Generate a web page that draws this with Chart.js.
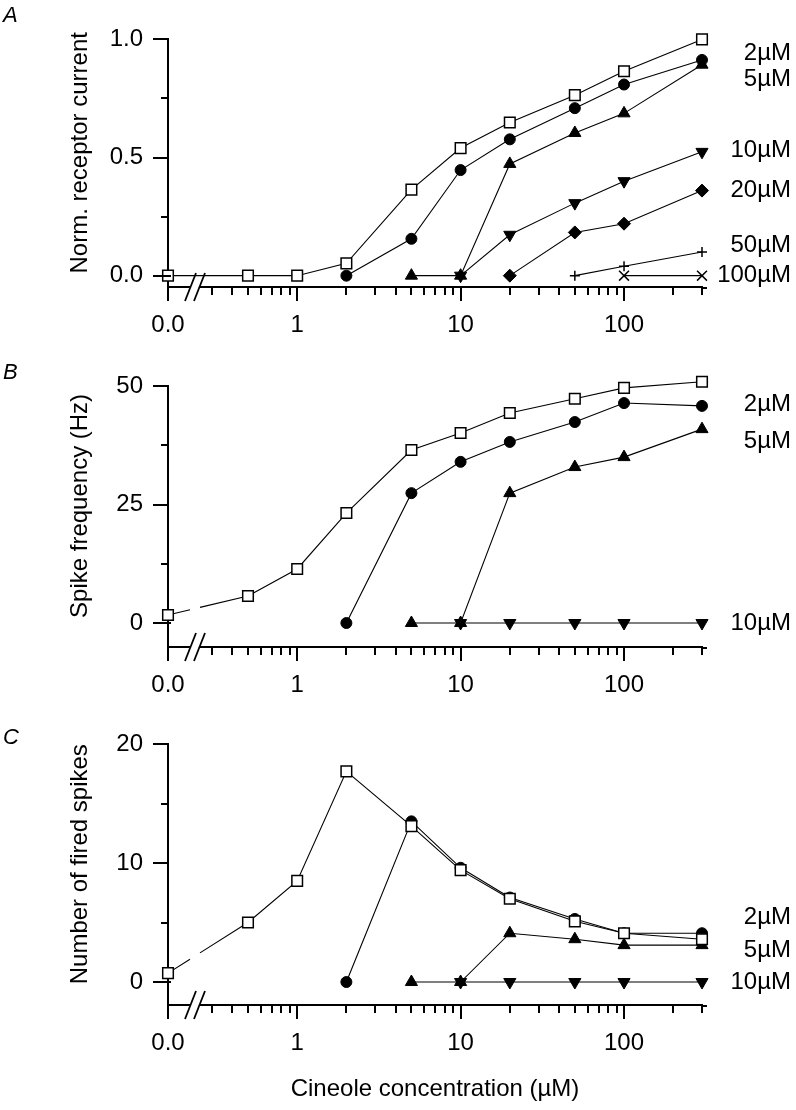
<!DOCTYPE html>
<html><head><meta charset="utf-8">
<script src="https://cdn.jsdelivr.net/npm/chart.js@4.4.1/dist/chart.umd.min.js"></script>
<style>
html,body{margin:0;padding:0;background:#fff;}
#wrap{position:relative;width:796px;height:1110px;overflow:hidden;background:#fff;}
canvas{position:absolute;left:0;}
</style></head><body>
<div id="wrap">
<canvas id="cA" width="796" height="340" style="top:0px"></canvas>
<canvas id="cB" width="796" height="360" style="top:340px"></canvas>
<canvas id="cC" width="796" height="410" style="top:700px"></canvas>
</div>
<script>
// ---------- data ----------
const CONC = [0, 0.5, 1, 2, 5, 10, 20, 50, 100, 300];   // cineole concentration (µM)
const ZERO_POS = 0.162;                                     // where "0.0" sits on the broken log axis
const X_TICKS = [ZERO_POS, 0.3, 0.4, 0.5, 0.6, 0.7, 0.8, 0.9, 1, 2, 3, 4, 5, 6, 7, 8, 9, 10,
                 20, 30, 40, 50, 60, 70, 80, 90, 100, 200, 300];
const X_TICK_LABELS = ['0.0', '', '', '', '', '', '', '', '1', '', '', '', '', '', '', '', '', '10',
                       '', '', '', '', '', '', '', '', '100', '', ''];

// Panel A: normalized receptor current
const A_CONTROL = [0, 0, 0, 0.052, 0.364, 0.54, 0.648, 0.764, 0.865, 1.0];
const A_2UM   = [null, null, null, 0, 0.156, 0.447, 0.577, 0.709, 0.809, 0.913];
const A_5UM   = [null, null, null, null, 0, 0, 0.473, 0.604, 0.687, 0.893];
const A_10UM  = [null, null, null, null, null, 0, 0.173, 0.307, 0.40, 0.524];
const A_20UM  = [null, null, null, null, null, null, 0, 0.183, 0.22, 0.36];
const A_50UM  = [null, null, null, null, null, null, null, 0, 0.04, 0.10];
const A_100UM = [null, null, null, null, null, null, null, null, 0, 0];
const A_Y_TICKS = [0, 0.25, 0.5, 0.75, 1.0];
const A_Y_LABELS = ['0.0', '', '0.5', '', '1.0'];

// Panel B: spike frequency (Hz)
const B_CONTROL = [1.7, 5.7, 11.4, 23.2, 36.5, 40.1, 44.3, 47.3, 49.6, 50.9];
const B_2UM  = [null, null, null, 0, 27.4, 34.0, 38.2, 42.4, 46.4, 45.8];
const B_5UM  = [null, null, null, null, 0, 0, 27.4, 32.9, 35.0, 40.9];
const B_10UM = [null, null, null, null, null, 0, 0, 0, 0, 0];
const B_Y_TICKS = [0, 12.5, 25, 37.5, 50];
const B_Y_LABELS = ['0', '', '25', '', '50'];

// Panel C: number of fired spikes
const C_CONTROL = [0.75, 5.0, 8.5, 17.7, 13.1, 9.4, 7.0, 5.1, 4.1, 3.6];
const C_2UM  = [null, null, null, 0, 13.5, 9.6, 7.1, 5.3, 4.1, 4.1];
const C_5UM  = [null, null, null, null, 0, 0, 4.1, 3.6, 3.1, 3.1];
const C_10UM = [null, null, null, null, null, 0, 0, 0, 0, 0];
const C_Y_TICKS = [0, 5, 10, 15, 20];
const C_Y_LABELS = ['0', '', '10', '', '20'];

const SERIES_NAMES_A = ['2µM', '5µM', '10µM', '20µM', '50µM', '100µM'];
const SERIES_NAMES_BC = ['2µM', '5µM', '10µM'];

// ---------- styling ----------
const FONT = "'Liberation Sans', Arial, Helvetica, sans-serif";
Chart.defaults.font.family = FONT;
Chart.defaults.font.size = 24;
Chart.defaults.color = '#000';

const STYLES = {
  control: {pointStyle: 'rect', pointRadius: 7.5, pointBackgroundColor: '#fff', pointBorderWidth: 1.5},
  circle:  {pointStyle: 'circle', pointRadius: 5.5, pointBackgroundColor: '#000', pointBorderWidth: 1},
  tri:     {pointStyle: 'triangle', pointRadius: 7, pointBackgroundColor: '#000', pointBorderWidth: 1},
  inv:     {pointStyle: 'triangle', pointRotation: 180, pointRadius: 7, pointBackgroundColor: '#000', pointBorderWidth: 1},
  diamond: {pointStyle: 'rectRot', pointRadius: 6.5, pointBackgroundColor: '#000', pointBorderWidth: 1},
  plus:    {pointStyle: 'cross', pointRadius: 5, pointBorderWidth: 1.5},
  xcross:  {pointStyle: 'crossRot', pointRadius: 7, pointBorderWidth: 1.5}
};

const BREAK_GAP = [22, 32]; // px after axis start where the axis break interrupts lines

function toPoints(vals) {
  return CONC.map((c, i) => ({x: c === 0 ? ZERO_POS : c, y: vals[i]}));
}

function makeDataset(vals, style, gapAtBreak) {
  const ds = Object.assign({
    data: toPoints(vals),
    borderColor: '#000',
    borderWidth: 1.1,
    pointBorderColor: '#000',
    pointHoverRadius: 0,
    clip: false,
    fill: false,
    tension: 0
  }, STYLES[style]);
  if (gapAtBreak) {
    ds.segment = {
      borderDash: ctx => {
        if (ctx.p0DataIndex !== 0) return undefined;
        const dx = ctx.p1.x - ctx.p0.x, dy = ctx.p1.y - ctx.p0.y;
        const len = Math.hypot(dx, dy), k = len / dx;
        return [BREAK_GAP[0] * k, (BREAK_GAP[1] - BREAK_GAP[0]) * k, len];
      }
    };
  }
  return ds;
}

const deco = {
  id: 'deco',
  afterDraw(chart, args, o) {
    const {ctx, chartArea: ca, scales: {x, y}} = chart;
    ctx.save();
    ctx.strokeStyle = '#000';
    ctx.fillStyle = '#000';
    ctx.lineWidth = 2;
    ctx.lineCap = 'butt';
    // short extension of the x axis past the last tick
    ctx.beginPath(); ctx.moveTo(ca.right - 1, ca.bottom + 1); ctx.lineTo(ca.right + 5, ca.bottom + 1); ctx.stroke();
    // x tick marks
    x.ticks.forEach(t => {
      const px = Math.round(x.getPixelForValue(t.value));
      const len = t.label ? 14 : 8;
      ctx.beginPath(); ctx.moveTo(px, ca.bottom - 1); ctx.lineTo(px, ca.bottom + len); ctx.stroke();
    });
    // y tick marks
    y.ticks.forEach(t => {
      const py = Math.round(y.getPixelForValue(t.value));
      const len = t.label ? 15 : 7;
      ctx.beginPath(); ctx.moveTo(ca.left - len, py); ctx.lineTo(ca.left + (t.value === 0 ? 3 : 0), py); ctx.stroke();
    });
    // axis break
    const L = ca.left, A = ca.bottom;
    ctx.fillStyle = '#fff';
    ctx.beginPath();
    ctx.moveTo(L + 17 + 6, A - 3); ctx.lineTo(L + 26 + 6, A - 3);
    ctx.lineTo(L + 26 + 4, A + 3); ctx.lineTo(L + 17 + 4, A + 3); ctx.closePath(); ctx.fill();
    ctx.lineWidth = 1.8;
    [[17, 28], [26, 37]].forEach(([b, t]) => {
      ctx.beginPath(); ctx.moveTo(L + b, A + 14); ctx.lineTo(L + t, A - 14); ctx.stroke();
    });
    // series labels on the right
    ctx.fillStyle = '#000';
    ctx.font = '24px ' + FONT;
    ctx.textAlign = 'right';
    ctx.textBaseline = 'middle';
    o.names.forEach((n, i) => ctx.fillText(n, 791, y.getPixelForValue(o.nameAt[i])));
    // y title
    ctx.save();
    ctx.translate(87, y.getPixelForValue(o.titleAt));
    ctx.rotate(-Math.PI / 2);
    ctx.textAlign = 'center';
    ctx.textBaseline = 'alphabetic';
    ctx.fillText(o.title, 0, 0);
    ctx.restore();
    // panel letter
    ctx.font = 'italic 22px ' + FONT;
    ctx.textAlign = 'left';
    ctx.textBaseline = 'alphabetic';
    ctx.fillText(o.letter, 3, o.letterY);
    ctx.restore();
  }
};

function makeChart(id, cfg) {
  const canvas = document.getElementById(id);
  const H = canvas.height;
  const xScale = {
    type: 'logarithmic', min: ZERO_POS, max: 300,
    afterFit: s => { s.height = H - cfg.axisY; },
    afterBuildTicks: s => { s.ticks = X_TICKS.map(v => ({value: v})); },
    ticks: {autoSkip: false, maxRotation: 0, minRotation: 0, padding: 24, color: '#000',
            font: {size: 24}, callback: (v, i) => X_TICK_LABELS[i]},
    grid: {display: false, drawTicks: false},
    border: {display: true, color: '#000', width: 2}
  };
  if (cfg.xTitle) {
    xScale.title = {display: true, text: cfg.xTitle, color: '#000', font: {size: 24}, padding: {top: 0, bottom: 6}};
  }
  return new Chart(canvas, {
    type: 'line',
    data: {datasets: cfg.datasets},
    options: {
      responsive: false, animation: false, devicePixelRatio: 1,
      layout: {padding: {left: 0, right: 796 - 702, top: cfg.top, bottom: 0}},
      plugins: {legend: {display: false}, tooltip: {enabled: false}, deco: cfg.deco},
      events: [],
      scales: {
        x: xScale,
        y: {
          type: 'linear', min: cfg.yMin, max: cfg.yMax,
          afterFit: s => { s.width = 168; },
          afterBuildTicks: s => { s.ticks = cfg.yTicks.map(v => ({value: v})); },
          ticks: {autoSkip: false, padding: 25, color: '#000', font: {size: 24},
                  callback: (v, i) => cfg.yLabels[i]},
          grid: {display: false, drawTicks: false},
          border: {display: true, color: '#000', width: 2}
        }
      }
    },
    plugins: [deco]
  });
}

makeChart('cA', {
  top: 25, axisY: 287, yMin: -0.048, yMax: 1.0,
  yTicks: A_Y_TICKS, yLabels: A_Y_LABELS,
  datasets: [
    makeDataset(A_CONTROL, 'control', false),
    makeDataset(A_2UM, 'circle'),
    makeDataset(A_5UM, 'tri'),
    makeDataset(A_10UM, 'inv'),
    makeDataset(A_20UM, 'diamond'),
    makeDataset(A_50UM, 'plus'),
    makeDataset(A_100UM, 'xcross')
  ],
  deco: {names: SERIES_NAMES_A, nameAt: [0.94, 0.83, 0.53, 0.36, 0.13, 0.0],
         title: 'Norm. receptor current', titleAt: 0.52, letter: 'A', letterY: 22}
});

makeChart('cB', {
  top: 46, axisY: 307, yMin: -5.06, yMax: 50,
  yTicks: B_Y_TICKS, yLabels: B_Y_LABELS,
  datasets: [
    makeDataset(B_CONTROL, 'control', true),
    makeDataset(B_2UM, 'circle'),
    makeDataset(B_5UM, 'tri'),
    makeDataset(B_10UM, 'inv')
  ],
  deco: {names: SERIES_NAMES_BC, nameAt: [46.2, 38.4, 0],
         title: 'Spike frequency (Hz)', titleAt: 24.7, letter: 'B', letterY: 379 - 340}
});

makeChart('cC', {
  top: 44, axisY: 305, yMin: -1.93, yMax: 20,
  yTicks: C_Y_TICKS, yLabels: C_Y_LABELS, xTitle: 'Cineole concentration (µM)',
  datasets: [
    makeDataset(C_CONTROL, 'control', true),
    makeDataset(C_2UM, 'circle'),
    makeDataset(C_5UM, 'tri'),
    makeDataset(C_10UM, 'inv')
  ],
  deco: {names: SERIES_NAMES_BC, nameAt: [5.4, 2.7, 0],
         title: 'Number of fired spikes', titleAt: 9.9, letter: 'C', letterY: 744 - 700}
});
</script>
</body></html>
